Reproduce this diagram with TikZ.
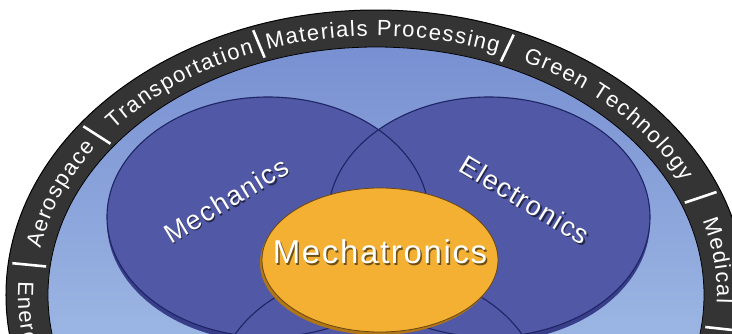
\documentclass[tikz,border=0pt]{standalone}
\usepackage{fontspec}
\setmainfont{Liberation Sans}
\newfontfamily\ringfont{Liberation Sans}
\newfontfamily\vennfont[LetterSpace=5]{Liberation Sans}
\usetikzlibrary{decorations.text}
\definecolor{ringgray}{RGB}{52,52,52}
\definecolor{skyA}{RGB}{120,144,209}
\definecolor{skyB}{RGB}{180,208,240}
\definecolor{vennblue}{RGB}{81,89,167}
\definecolor{vennrim}{RGB}{56,62,138}
\definecolor{vennline}{RGB}{30,36,100}
\definecolor{mtrfill}{RGB}{243,176,50}
\definecolor{mtrrim}{RGB}{176,118,22}
\definecolor{mtrline}{RGB}{105,70,18}
\newcommand{\ringstyle}{\ringfont\fontsize{22}{24}\selectfont}

\begin{document}
\begin{tikzpicture}[x=1pt,y=1pt,
    ringtxt/.style={decorate,decoration={text effects along path,text={#1},text align=center,
      text effects/.cd,characters={text=white,font=\ringstyle,inner sep=0pt,anchor=base,transform shape},
      character widths={font=\ringstyle,inner sep=0pt,inner xsep=0.75pt}}},
    ringlow/.style={decorate,decoration={text effects along path,text={#1},text align=left,
      text effects/.cd,characters={text=white,font=\ringstyle,inner sep=0pt,anchor=base,transform shape},
      character widths={font=\ringstyle,inner sep=0pt,inner xsep=0.75pt}}},
    divider/.style={white,line width=2.6pt},
    vennfill/.style={fill=vennblue},
    vennedge/.style={draw=vennline,line width=1.1pt},
    vlabel/.style={text=white,inner sep=0pt,font=\vennfont\fontsize{27}{30}\selectfont},
    vshadow/.style={vlabel,text=black,opacity=0.55}]
      \useasboundingbox (-376,-38) rectangle (356,295);
      \clip (-376,-38) rectangle (356,295);
      \fill[white] (-376,-38) rectangle (356,295);
      % outer ring and inner field
      \draw[fill=ringgray,line width=1pt] (0,0) ellipse [x radius=370,y radius=285];
      \shade[top color=skyA,bottom color=skyB] (0,0) ellipse [x radius=328,y radius=248];
      \draw[black,line width=0.8pt] (0,0) ellipse [x radius=328,y radius=248];
      \foreach \t in {173.5,143.1,109.6,67.9,21.5,-7.3}
        \draw[divider] (\t:332 and 252) -- (\t:366 and 281);
      \path[ringlow=Energy] (177:358 and 275) arc [start angle=177,end angle=240,x radius=358,y radius=275];
      \path[ringtxt=Aerospace] (183.3:341 and 259) arc [start angle=183.3,end angle=133.3,x radius=341,y radius=259];
      \path[ringtxt=Transportation] (151.4:341 and 259) arc [start angle=151.4,end angle=101.4,x radius=341,y radius=259];
      \path[ringtxt=Materials Processing] (113.8:341 and 259) arc [start angle=113.8,end angle=63.8,x radius=341,y radius=259];
      \path[ringtxt=Green Technology] (69.7:341 and 259) arc [start angle=69.7,end angle=19.7,x radius=341,y radius=259];
      \path[ringtxt=Medical] (32.1:341 and 259) arc [start angle=32.1,end angle=-17.9,x radius=341,y radius=259];
      % three disciplines
      \fill[vennrim] (-108,73) ellipse [x radius=161,y radius=120];
      \fill[vennrim] (113,73) ellipse [x radius=161,y radius=120];
      \fill[vennfill] (2.5,-93) ellipse [x radius=161,y radius=118];
      \fill[vennfill] (-108,78) ellipse [x radius=161,y radius=120];
      \fill[vennfill] (113,78) ellipse [x radius=161,y radius=120];
      \draw[vennedge] (2.5,-93) ellipse [x radius=161,y radius=118];
      \draw[vennedge] (-108,78) ellipse [x radius=161,y radius=120];
      \draw[vennedge] (113,78) ellipse [x radius=161,y radius=120];
      % centre
      \fill[mtrrim] (2,32) ellipse [x radius=118,y radius=72];
      \draw[fill=mtrfill,draw=mtrline,line width=0.8pt] (4,35) ellipse [x radius=118,y radius=72];
      \node[vshadow,rotate=31] (mechS) at (-148.5,93.5) {Mechanics};
      \node[vlabel,rotate=31] (mech) at (-150,95) {Mechanics};
      \node[vshadow,rotate=-31] (elecS) at (150.5,93.5) {Electronics};
      \node[vlabel,rotate=-31] (elec) at (149,95) {Electronics};
      \node[vshadow,font=\vennfont\fontsize{33}{36}\selectfont] (mtrS) at (5.5,41.5) {Mechatronics};
      \node[vlabel,font=\vennfont\fontsize{33}{36}\selectfont] (mtr) at (4,43) {Mechatronics};
\end{tikzpicture}
\end{document}
